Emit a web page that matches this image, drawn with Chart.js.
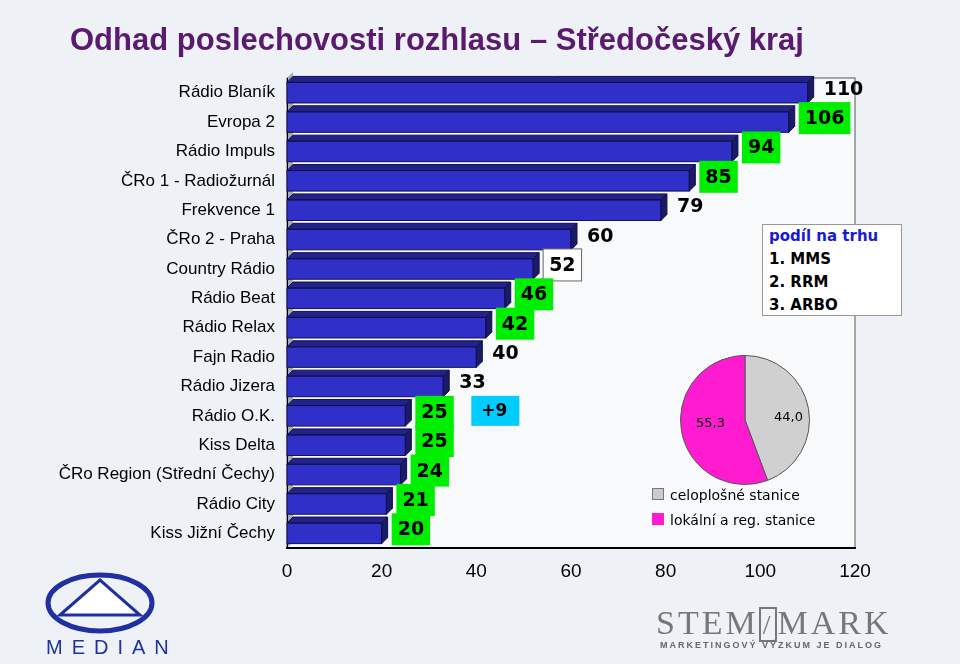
<!DOCTYPE html>
<html><head><meta charset="utf-8">
<script src="https://cdn.jsdelivr.net/npm/chart.js@4"></script>
<style>
body{margin:0;width:960px;height:664px;background:#eef2f6;font-family:Arial,"Liberation Sans",sans-serif;position:relative;overflow:hidden}
#title{position:absolute;left:70px;top:22px;font:bold 31px Arial,"Liberation Sans";color:#5a1a6e}
#main{position:absolute;left:0;top:0}
#pieBox{position:absolute;left:680px;top:355px;width:130px;height:130px}
#share{position:absolute;left:762px;top:224px;width:140px;height:92px;background:#fff;border:1px solid #999;font:bold 15px Verdana,"DejaVu Sans";line-height:23px;padding-left:6px;box-sizing:border-box}
.leg{position:absolute;left:652px;font:14px Verdana,"DejaVu Sans"}
.leg span{display:inline-block;width:10px;height:10px;margin-right:6px;border:1px solid #777}
#median{position:absolute;left:46px;top:636px;font:20px Arial;letter-spacing:9px;color:#2030a0}
#stem{position:absolute;left:656px;top:604px;font:34px "Liberation Serif",serif;letter-spacing:3px;color:#777}
#stem2{position:absolute;left:660px;top:640px;font:bold 9px Arial;letter-spacing:2px;color:#666}
</style></head><body>
<canvas id="main" width="960" height="664"></canvas>
<div id="title">Odhad poslechovosti rozhlasu – Středočeský kraj</div>
<div id="share"><span style="color:#1a1ad0">podíl na trhu</span><br>1. MMS<br>2. RRM<br>3. ARBO</div>
<div id="pieBox"><canvas id="pie" width="130" height="130"></canvas></div>
<div class="leg" style="top:487px"><span style="background:#ccc"></span>celoplošné stanice</div>
<div class="leg" style="top:512px"><span style="background:#ff1cd0;border-color:#ff1cd0"></span>lokální a reg. stanice</div>
<svg style="position:absolute;left:40px;top:570px" width="120" height="70"><ellipse cx="60" cy="33" rx="52" ry="28" fill="none" stroke="#2030a0" stroke-width="5"/><path d="M20 45 L60 10 L100 45 Z" fill="#ffffff" stroke="#2030a0" stroke-width="3"/></svg>
<div id="median">MEDIAN</div>
<div id="stem">STEM<span style="font-size:28px;border:2px solid #777;padding:0 2px">/</span>MARK</div>
<div id="stem2">MARKETINGOVÝ VÝZKUM JE DIALOG</div>
<script>
const stations = ["Rádio Blaník","Evropa 2","Rádio Impuls","ČRo 1 - Radiožurnál","Frekvence 1","ČRo 2 - Praha","Country Rádio","Rádio Beat","Rádio Relax","Fajn Radio","Rádio Jizera","Rádio O.K.","Kiss Delta","ČRo Region (Střední Čechy)","Rádio City","Kiss Jižní Čechy"];
const listeners = [110,106,94,85,79,60,52,46,42,40,33,25,25,24,21,20];
const labelStyle = ["plain","green","green","green","plain","plain","box","green","green","plain","plain","green","green","green","green","green"];
const xTicks = [0,20,40,60,80,100,120];
const pieLabels = ["celoplošné stanice","lokální a reg. stanice"];
const pieValues = [44.0,55.3];

const depth = 6;
const bar3d = {
  id: "bar3d",
  afterDatasetsDraw(chart) {
    const ctx = chart.ctx;
    const meta = chart.getDatasetMeta(0);
    meta.data.forEach((b, i) => {
      const x0 = b.base, x1 = b.x, t = b.y - b.height / 2, bt = b.y + b.height / 2;
      ctx.save();
      ctx.strokeStyle = "#101050"; ctx.lineWidth = 1;
      ctx.fillStyle = "#22228a";
      ctx.beginPath(); ctx.moveTo(x0, t); ctx.lineTo(x0 + depth, t - depth); ctx.lineTo(x1 + depth, t - depth); ctx.lineTo(x1, t); ctx.closePath(); ctx.fill(); ctx.stroke();
      ctx.fillStyle = "#1a1a66";
      ctx.beginPath(); ctx.moveTo(x1, t); ctx.lineTo(x1 + depth, t - depth); ctx.lineTo(x1 + depth, bt - depth); ctx.lineTo(x1, bt); ctx.closePath(); ctx.fill(); ctx.stroke();
      ctx.strokeRect(x0, t, x1 - x0, bt - t);
      const txt = String(listeners[i]);
      ctx.font = "bold 19px Verdana, 'DejaVu Sans'";
      const w = ctx.measureText(txt).width;
      const lx = x1 + 16, ly = b.y - 4;
      if (labelStyle[i] === "green") {
        ctx.fillStyle = "#00ee00";
        ctx.fillRect(lx - 6, ly - 16, w + 12, 32);
      } else if (labelStyle[i] === "box") {
        ctx.fillStyle = "#fff"; ctx.fillRect(lx - 6, ly - 16, w + 12, 32);
        ctx.strokeStyle = "#666"; ctx.strokeRect(lx - 6, ly - 16, w + 12, 32);
      }
      ctx.fillStyle = "#000"; ctx.textBaseline = "middle";
      ctx.fillText(txt, lx, ly + 1);
      if (i === 11) {
        ctx.fillStyle = "#00ccff"; ctx.fillRect(lx + 50, ly - 16, 48, 30);
        ctx.fillStyle = "#000"; ctx.font = "bold 17px Verdana, 'DejaVu Sans'";
        ctx.fillText("+9", lx + 60, ly);
      }
      ctx.restore();
    });
  },
  beforeDraw(chart) {
    const a = chart.chartArea, ctx = chart.ctx;
    ctx.save();
    ctx.fillStyle = "#f7f9fb";
    ctx.fillRect(a.left, a.top, a.right - a.left, a.bottom - a.top);
    ctx.strokeStyle = "#555"; ctx.lineWidth = 1;
    ctx.strokeRect(a.left, a.top, a.right - a.left, a.bottom - a.top);
    ctx.fillStyle = "#aaa";
    ctx.beginPath(); ctx.moveTo(a.left, a.top); ctx.lineTo(a.left + depth, a.top - depth); ctx.lineTo(a.left + depth, a.bottom - depth); ctx.lineTo(a.left, a.bottom); ctx.fill();
    ctx.restore();
  }
};

new Chart(document.getElementById("main"), {
  type: "bar",
  data: { labels: stations, datasets: [{ data: listeners, backgroundColor: "#3030c8", barPercentage: 0.7, categoryPercentage: 1 }] },
  options: {
    indexAxis: "y", responsive: false, animation: false,
    layout: { padding: { top: 78, right: 105, bottom: 76, left: 0 } },
    plugins: { legend: { display: false }, tooltip: { enabled: false } },
    scales: {
      x: { min: 0, max: 120, afterBuildTicks: s => { s.ticks = xTicks.map(v => ({ value: v })); },
        grid: { display: false, drawTicks: true, tickLength: 8, color: "#000" }, border: { color: "#000", width: 2 },
        ticks: { color: "#000", font: { size: 19, family: "Arial" }, padding: 4 },
        afterFit: s => { s.height = 40; } },
      y: { grid: { display: false, tickLength: 6, color: "#000" }, border: { color: "#000", width: 1 },
        ticks: { color: "#000", font: { size: 17, family: "Arial" }, padding: 6 },
        afterFit: s => { s.width = 287; } }
    }
  },
  plugins: [bar3d]
});

new Chart(document.getElementById("pie"), {
  type: "pie",
  data: { labels: pieLabels, datasets: [{ data: pieValues, backgroundColor: ["#d0d0d0", "#ff1cd0"], borderColor: "#555", borderWidth: 1 }] },
  options: { responsive: false, animation: false, plugins: { legend: { display: false }, tooltip: { enabled: false } } },
  plugins: [{ id: "pl", afterDatasetsDraw(c) {
    const ctx = c.ctx; ctx.save(); ctx.font = "13px Verdana, 'DejaVu Sans'"; ctx.fillStyle = "#000";
    ctx.fillText("44,0", 94, 66); ctx.fillText("55,3", 16, 72); ctx.restore(); } }]
});
</script>
</body></html>
